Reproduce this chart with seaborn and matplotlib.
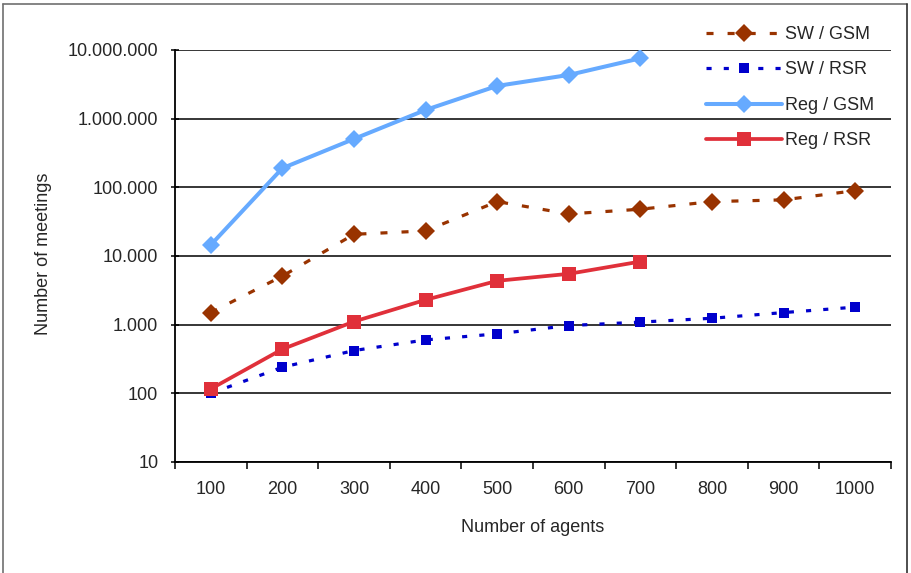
import numpy as np
import pandas as pd
import matplotlib
matplotlib.use("Agg")
import matplotlib.pyplot as plt
import seaborn as sns
from matplotlib.lines import Line2D
from matplotlib.ticker import FuncFormatter, FixedLocator, NullFormatter

# ---- data ----
agents = ["100", "200", "300", "400", "500", "600", "700", "800", "900", "1000"]
sw_gsm = [1500, 5100, 20700, 23200, 62000, 41000, 48000, 62000, 65700, 89500]
sw_rsr = [100, 240, 420, 600, 735, 970, 1090, 1240, 1500, 1800]
reg_gsm = [14500, 190000, 507000, 1340000, 3000000, 4330000, 7570000, np.nan, np.nan, np.nan]
reg_rsr = [116, 440, 1110, 2300, 4350, 5500, 8300, np.nan, np.nan, np.nan]
y_ticks = [10, 100, 1000, 10000, 100000, 1000000, 10000000]

series_names = ["SW / GSM", "SW / RSR", "Reg / GSM", "Reg / RSR"]
df = pd.DataFrame({
    "pos": np.arange(len(agents)),
    "SW / GSM": sw_gsm,
    "SW / RSR": sw_rsr,
    "Reg / GSM": reg_gsm,
    "Reg / RSR": reg_rsr,
})

sns.set_theme(style="white")
plt.rcParams["font.family"] = ["Liberation Sans", "DejaVu Sans"]
TXT = "#262626"
plt.rcParams["text.color"] = TXT

W, H = 911, 573
fig = plt.figure(figsize=(W / 100, H / 100), dpi=100)
fig.patch.set_facecolor("white")
ax = fig.add_axes([175 / W, 1 - 462 / H, (891 - 175) / W, (462 - 50) / H])
ax.set_facecolor("white")

styles = {
    "SW / GSM": dict(color="#993300", marker="D", markersize=9.6, lw=2.3,
                     linestyle=(0, (2.2, 4.4))),
    "SW / RSR": dict(color="#0000CC", marker="s", markersize=6.8, lw=2.3,
                     linestyle=(0, (1.6, 3.8))),
    "Reg / GSM": dict(color="#66AAFF", marker="D", markersize=9.4, lw=2.9,
                      linestyle="-"),
    "Reg / RSR": dict(color="#E0303A", marker="s", markersize=10, lw=2.7,
                      linestyle="-"),
}

handles = []
for name in series_names:
    st = styles[name]
    sns.lineplot(data=df, x="pos", y=name, ax=ax, estimator=None,
                 color=st["color"], marker=st["marker"], markersize=st["markersize"],
                 markeredgewidth=0, lw=st["lw"], linestyle=st["linestyle"],
                 label=name, zorder=3)
    handles.append(ax.lines[-1])

ax.set_yscale("log")
ax.set_ylim(10, 10000000)
ax.set_xlim(-0.5, len(agents) - 0.5)

# y axis
ax.yaxis.set_major_locator(FixedLocator(y_ticks))
ax.yaxis.set_minor_locator(FixedLocator([]))
ax.yaxis.set_major_formatter(FuncFormatter(lambda v, p: f"{int(round(v)):,}".replace(",", ".")))
ax.tick_params(axis="y", which="major", direction="inout", length=6, width=1.1,
               color="black", labelsize=13, pad=9, left=True, labelcolor=TXT)
ax.grid(True, axis="y", color="black", lw=1.1, zorder=1)
ax.grid(False, axis="x")

# x axis: ticks at category boundaries, labels at centres
ax.xaxis.set_major_locator(FixedLocator(np.arange(-0.5, len(agents), 1.0)))
ax.xaxis.set_major_formatter(NullFormatter())
ax.xaxis.set_minor_locator(FixedLocator(np.arange(len(agents))))
ax.set_xticklabels(agents, minor=True)
ax.tick_params(axis="x", which="major", direction="out", length=5, width=1.1,
               color="black", bottom=True)
ax.tick_params(axis="x", which="minor", length=0, labelsize=13, pad=14,
               labelcolor=TXT)

for s in ["top", "right"]:
    ax.spines[s].set_visible(False)
for s in ["left", "bottom"]:
    ax.spines[s].set_color("black")
    ax.spines[s].set_linewidth(1.3)

ax.set_xlabel("Number of agents", fontsize=13, color=TXT)
ax.set_ylabel("Number of meetings", fontsize=13, color=TXT)
ax.xaxis.set_label_coords(0.5, -(519 - 462) / (462 - 50))
ax.yaxis.set_label_coords((52 - 175) / (891 - 175), (462 - 254) / (462 - 50))

if ax.get_legend() is not None:
    ax.get_legend().remove()

fig.legend(handles=handles, labels=series_names, loc="upper left",
           bbox_to_anchor=(706 / W, 1 - 26 / H), frameon=False, fontsize=13,
           handlelength=4.2, handletextpad=0.2, labelspacing=1.02,
           borderpad=0, borderaxespad=0, numpoints=1)

# chart-area border (left, top, right)
bc = "#707070"
fig.add_artist(Line2D([3 / W, 3 / W], [0, 1 - 4 / H], transform=fig.transFigure, color=bc, lw=1.2))
fig.add_artist(Line2D([3 / W, 907 / W], [1 - 4 / H, 1 - 4 / H], transform=fig.transFigure, color=bc, lw=1.2))
fig.add_artist(Line2D([907 / W, 907 / W], [0, 1 - 4 / H], transform=fig.transFigure, color="#303030", lw=1.2))

fig.savefig("out.png", dpi=100, facecolor="white")
